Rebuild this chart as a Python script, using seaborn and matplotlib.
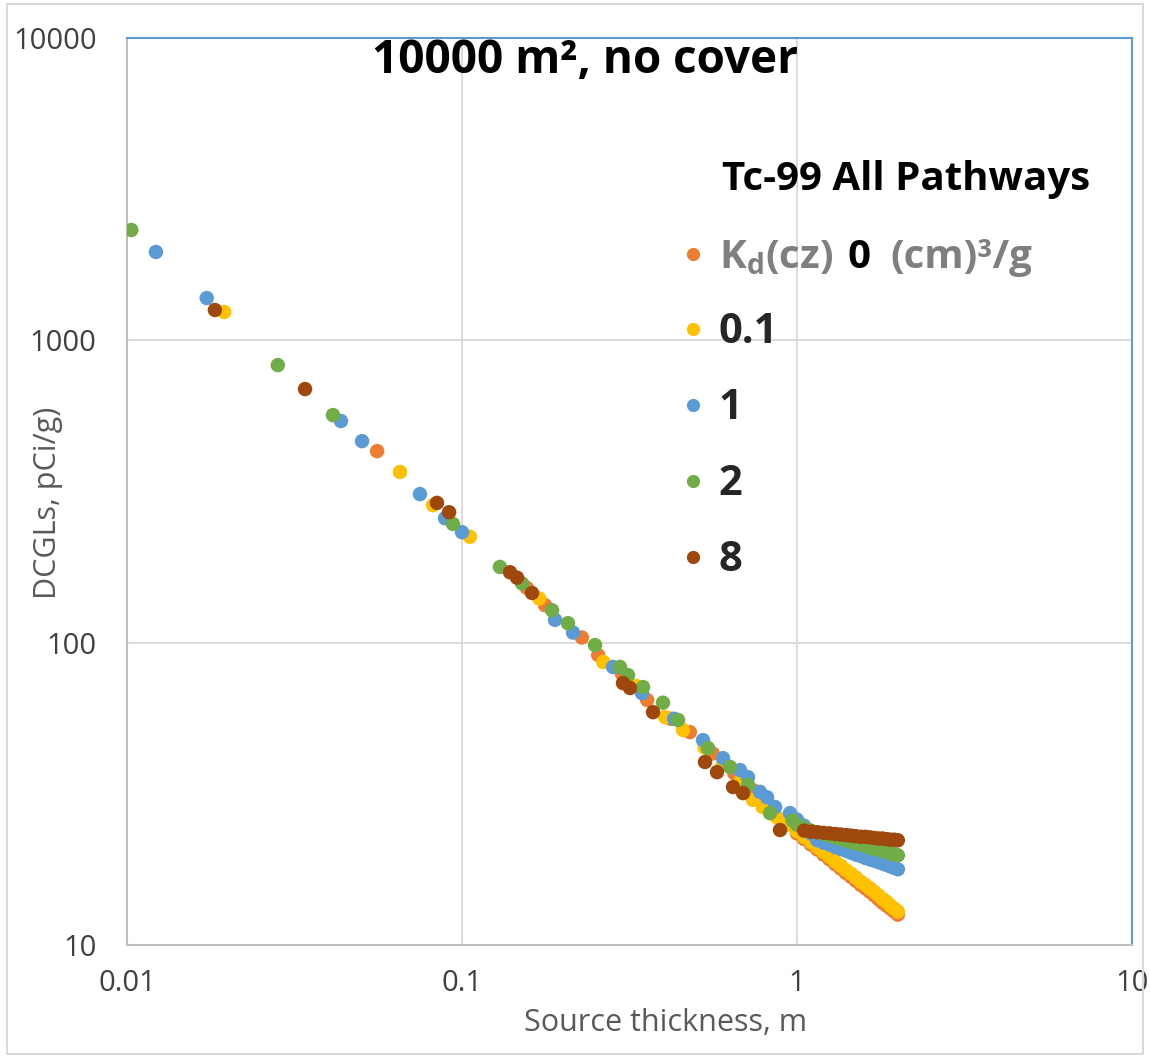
import matplotlib
matplotlib.use("Agg")
import matplotlib.pyplot as plt
import matplotlib.ticker as mticker
import seaborn as sns
import pandas as pd
from matplotlib.lines import Line2D
from matplotlib.patches import Rectangle

sns.set_style("white")
plt.rcParams['font.family'] = ['Open Sans', 'DejaVu Sans']
plt.rcParams['mathtext.fontset'] = 'custom'
plt.rcParams['mathtext.rm'] = 'Open Sans'
plt.rcParams['mathtext.it'] = 'Open Sans:italic'
plt.rcParams['mathtext.bf'] = 'Open Sans:bold'

# ---------------- data ----------------
series_names = ["0", "0.1", "1", "2", "8"]
series_colors = ["#ED7D31", "#FFC000", "#5B9BD5", "#70AD47", "#9E480E"]

x_tail = [1.0, 1.05, 1.1, 1.15, 1.2, 1.25, 1.3, 1.35, 1.4, 1.45, 1.5,
          1.55, 1.6, 1.65, 1.7, 1.75, 1.8, 1.85, 1.9, 1.95, 2.0]

x_kd0 = [0.0558, 0.156, 0.177, 0.228, 0.255, 0.30, 0.357, 0.42, 0.479, 0.56,
         0.65, 0.74, 0.85, 0.95] + x_tail
y_kd0 = [430, 152, 133, 104, 91, 79, 64.6, 56, 50.6, 43, 37, 32.5, 28.2, 25.2,
         23.4, 22.4, 21.5, 20.7, 19.9, 19.2, 18.5, 17.9, 17.3, 16.8, 16.3,
         15.8, 15.4, 15.0, 14.6, 14.2, 13.8, 13.5, 13.2, 12.9, 12.6]

x_kd01 = [0.0195, 0.0653, 0.082, 0.1056, 0.17, 0.264, 0.33, 0.404, 0.457, 0.53,
          0.60, 0.68, 0.739, 0.79, 0.87, 0.93] + x_tail
y_kd01 = [1241, 367, 285, 224, 140, 86.3, 72, 56.7, 51.4, 45, 39.5, 35, 30.2,
          28.6, 26.5, 25.0,
          23.8, 22.8, 21.9, 21.1, 20.3, 19.6, 18.9, 18.3, 17.7, 17.2, 16.7,
          16.2, 15.8, 15.4, 15.0, 14.6, 14.2, 13.9, 13.5, 13.2, 12.9]

x_kd1 = [0.0122, 0.0173, 0.0435, 0.0503, 0.0749, 0.089, 0.100, 0.1895, 0.2145,
         0.2823, 0.3446, 0.43, 0.5241, 0.6014, 0.676, 0.714, 0.775, 0.814, 0.86,
         0.953] + x_tail
y_kd1 = [1960, 1380, 541, 464, 310, 258, 232, 119, 108, 83.1, 68.1, 56, 47.6,
         41.5, 37.9, 35.9, 32.1, 30.8, 28.6, 27.3,
         26.0, 24.8, 23.4, 22.2, 21.8, 21.5, 21.1, 20.8, 20.5, 20.2, 19.9,
         19.7, 19.4, 19.2, 19.0, 18.8, 18.6, 18.4, 18.2, 18.0, 17.8]

x_kd2 = [0.0103, 0.0282, 0.0412, 0.094, 0.1298, 0.1511, 0.1857, 0.2072, 0.2495,
         0.2962, 0.313, 0.347, 0.398, 0.4414, 0.5424, 0.631, 0.714, 0.831,
         0.97] + x_tail
y_kd2 = [2317, 828, 566, 247, 178, 157, 128, 116, 98.2, 83.1, 78.1, 71.3, 63.3,
         55.5, 44.8, 38.8, 33.8, 27.3, 25.8,
         25.0, 24.3, 23.9, 23.6, 23.3, 23.0, 22.7, 22.4, 22.2, 21.9, 21.7,
         21.5, 21.3, 21.0, 20.8, 20.7, 20.5, 20.3, 20.1, 20.0, 19.8]

x_kd8 = [0.0183, 0.034, 0.0842, 0.0915, 0.1391, 0.146, 0.1618, 0.3024, 0.3173,
         0.3717, 0.5313, 0.5771, 0.6442, 0.69, 0.89] + x_tail[1:]
y_kd8 = [1260, 690, 290, 270, 171, 164, 146, 73.5, 70.8, 58.9, 40.3, 37.3, 33.3,
         31.8, 24.0,
         23.9, 23.7, 23.6, 23.5, 23.4, 23.3, 23.2, 23.1, 23.0, 22.9, 22.8,
         22.8, 22.7, 22.6, 22.5, 22.5, 22.4, 22.3, 22.3, 22.2]

x_ticks = [0.01, 0.1, 1, 10]
x_tick_labels = ["0.01", "0.1", "1", "10"]
y_ticks = [10, 100, 1000, 10000]
y_tick_labels = ["10", "100", "1000", "10000"]

frames = []
for name, xs, ys in zip(series_names,
                        [x_kd0, x_kd01, x_kd1, x_kd2, x_kd8],
                        [y_kd0, y_kd01, y_kd1, y_kd2, y_kd8]):
    frames.append(pd.DataFrame({"thickness": xs, "dcgl": ys, "Kd": name}))
df = pd.concat(frames, ignore_index=True)

# ---------------- figure ----------------
W, H = 1150, 1058
fig = plt.figure(figsize=(W / 100, H / 100), dpi=100)
fig.add_artist(Rectangle((0.006, 0.004), 0.988, 0.992, transform=fig.transFigure,
                         fill=False, edgecolor="#D9D9D9", linewidth=1.5))
ax = fig.add_axes([127 / W, 1 - 945 / H, (1132 - 127) / W, (945 - 38) / H])

sns.scatterplot(data=df, x="thickness", y="dcgl", hue="Kd", hue_order=series_names,
                palette=dict(zip(series_names, series_colors)), s=108,
                linewidth=0, edgecolor="none", legend=False, ax=ax, zorder=3)

ax.set_xscale("log")
ax.set_yscale("log")
ax.set_xlim(0.01, 10)
ax.set_ylim(10, 10000)
ax.xaxis.set_major_locator(mticker.FixedLocator(x_ticks))
ax.xaxis.set_major_formatter(mticker.FixedFormatter(x_tick_labels))
ax.yaxis.set_major_locator(mticker.FixedLocator(y_ticks))
ax.yaxis.set_major_formatter(mticker.FixedFormatter(y_tick_labels))
ax.xaxis.set_minor_locator(mticker.NullLocator())
ax.yaxis.set_minor_locator(mticker.NullLocator())
ax.grid(True, which="major", color="#D9D9D9", linewidth=1.3)
ax.set_axisbelow(True)
ax.tick_params(axis="both", length=0, labelsize=21, labelcolor="#404040")
ax.tick_params(axis="y", pad=22)
ax.tick_params(axis="x", pad=17)

for side in ["top", "right"]:
    ax.spines[side].set_color("#5B9BD5")
    ax.spines[side].set_linewidth(1.5)
for side in ["left", "bottom"]:
    ax.spines[side].set_color("#BFBFBF")
    ax.spines[side].set_linewidth(1.5)

ax.set_xlabel("Source thickness, m", fontsize=22, color="#595959")
ax.set_ylabel("DCGLs, pCi/g)", fontsize=22, color="#595959")
ax.xaxis.set_label_coords(0.536, -0.070)
ax.yaxis.set_label_coords(-0.064, 0.488)

ax.text(0.4557, 0.9614, "10000 m², no cover", transform=ax.transAxes,
        ha="center", va="baseline", fontsize=33, fontweight="bold", color="black")
ax.text(0.592, 0.8324, "Tc-99 All Pathways", transform=ax.transAxes,
        ha="left", va="baseline", fontsize=29, fontweight="bold", color="black")

handles = [Line2D([], [], marker="o", linestyle="", color=c, markersize=9.5,
                  markeredgewidth=0) for c in series_colors]
labels = ["K$_\\mathregular{d}$(cz)", "0.1", "1", "2", "8"]
leg = ax.legend(handles, labels, loc="upper left", bbox_to_anchor=(0.553, 0.779),
                frameon=False, prop={"weight": "bold", "size": 30},
                handlelength=0.5, handletextpad=0.36, labelspacing=0.84,
                borderpad=0, borderaxespad=0)
t0 = leg.get_texts()[0]
t0.set_color("#7F7F7F")
t0.set_fontsize(29)

fig.canvas.draw()
renderer = fig.canvas.get_renderer()
bb0 = t0.get_window_extent(renderer)
bx, by = t0.get_transform().transform(t0.get_position())
fw, fh = fig.bbox.width, fig.bbox.height
t1 = fig.text((bb0.x1 + 15) / fw, by / fh, "0", ha="left", va="baseline",
              fontsize=29, fontweight="bold", color="black")
bb1 = t1.get_window_extent(renderer)
fig.text((bb1.x1 + 20) / fw, by / fh, "(cm)³/g", ha="left", va="baseline",
         fontsize=29, fontweight="bold", color="#7F7F7F")

fig.savefig("out.png", dpi=100, facecolor="white")
